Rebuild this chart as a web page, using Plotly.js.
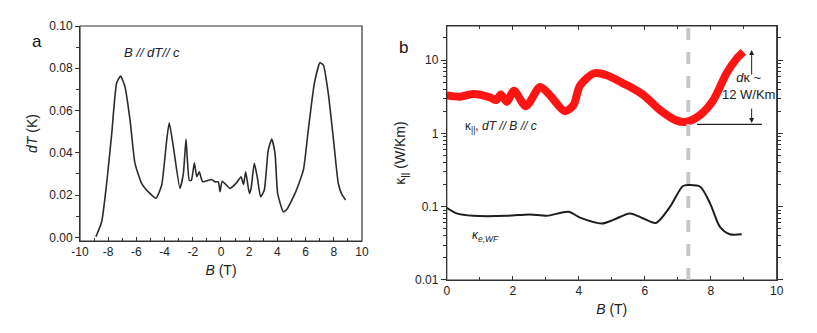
<!DOCTYPE html>
<html>
<head>
<meta charset="utf-8">
<script src="https://cdn.plot.ly/plotly-3.0.1.min.js"></script>
<style>
  html, body { margin: 0; padding: 0; background: #fff; }
  #chart { width: 817px; height: 333px; }
</style>
</head>
<body>
<div id="chart"></div>
<script>
// panel a: dT vs B
const aB = [-8.87, -8.46, -8.11, -7.75, -7.40, -7.12, -6.81, -6.45, -6.10, -5.63,
            -5.04, -4.61, -4.21, -3.85, -3.67, -3.38, -2.91, -2.67, -2.48, -2.25,
            -2.10, -1.89, -1.72, -1.54, -1.30, -0.66, -0.43, -0.19, -0.07, 0.09,
            0.64, 1.11, 1.42, 1.60, 1.75, 2.01, 2.13, 2.36, 2.57, 2.81,
            3.07, 3.35, 3.60, 3.83, 4.02, 4.42, 4.66, 5.25, 5.84, 6.19,
            6.62, 7.02, 7.26, 7.61, 7.97, 8.32, 8.56, 8.84];
const aDT = [0.0003, 0.0074, 0.0255, 0.049, 0.073, 0.0763, 0.0713, 0.0555, 0.035, 0.0256,
             0.0208, 0.0185, 0.0247, 0.046, 0.0542, 0.0429, 0.0232, 0.030, 0.0464, 0.027,
             0.027, 0.0353, 0.0287, 0.031, 0.0263, 0.0274, 0.0263, 0.0263, 0.0216, 0.0266,
             0.0232, 0.0259, 0.0287, 0.025, 0.031, 0.0208, 0.023, 0.035, 0.0287, 0.0192,
             0.0224, 0.0413, 0.0465, 0.0397, 0.0208, 0.0121, 0.0132, 0.0208, 0.0318, 0.0508,
             0.0729, 0.0826, 0.0815, 0.068, 0.0467, 0.0255, 0.0205, 0.0177];
const aTicks = [-10, -8, -6, -4, -2, 0, 2, 4, 6, 8, 10];
const aTickText = ['-10', '-8', '-6', '-4', '-2', '0', '2', '4', '6', '8', '10'];

// panel b: kappa vs B (red, measured) and WF estimate (black)
const bB = [0, 0.4, 0.81, 1.31, 1.5, 1.64, 1.82, 2.04, 2.4, 2.83,
            3.13, 3.58, 3.84, 4.04, 4.47, 4.85, 5.25, 5.45, 5.96, 6.46,
            6.97, 7.27, 7.68, 8.08, 8.48, 8.79, 8.99];
const kappa = [3.3, 3.16, 3.44, 3.1, 2.85, 3.4, 2.7, 3.8, 2.35, 4.3,
               3.3, 2.0, 2.43, 4.5, 6.6, 6.2, 5.06, 4.56, 3.33, 2.08,
               1.49, 1.44, 1.78, 2.85, 6.6, 10.5, 12.9];
const wfB = [0, 0.3, 0.81, 1.82, 2.52, 3.03, 3.69, 4.04, 4.7, 5.05,
             5.55, 5.96, 6.34, 6.77, 7.15, 7.32, 7.68, 7.98, 8.28, 8.58, 8.94];
const kappaWF = [0.0966, 0.081, 0.075, 0.075, 0.0785, 0.075, 0.085, 0.071, 0.059, 0.066,
                 0.081, 0.069, 0.060, 0.1, 0.19, 0.197, 0.187, 0.111, 0.053, 0.042, 0.042];
const markB = 7.32;

const logMajor = [0.01, 0.1, 1, 10];
const logMinor = [];
[0.01, 0.1, 1, 10].forEach(d => {
  for (let m = 2; m <= 9; m++) if (d * m < 29) logMinor.push(d * m);
});

const font = 'Liberation Sans, Arial, sans-serif';
const ink = '#222';

const traces = [
  { x: aB, y: aDT, xaxis: 'x', yaxis: 'y', type: 'scatter', mode: 'lines',
    line: { color: '#2b2b2b', width: 1.6, shape: 'spline', smoothing: 0.5 } },
  { x: bB, y: kappa, xaxis: 'x2', yaxis: 'y2', type: 'scatter', mode: 'lines',
    line: { color: '#ff1414', width: 8, shape: 'spline', smoothing: 0.8 } },
  { x: wfB, y: kappaWF, xaxis: 'x2', yaxis: 'y2', type: 'scatter', mode: 'lines',
    line: { color: '#1e1e1e', width: 2, shape: 'spline', smoothing: 0.8 } }
];

const axBase = {
  showgrid: false, zeroline: false, showline: true, linecolor: '#333', linewidth: 1,
  tickfont: { family: font, size: 12, color: ink }, tickcolor: '#333', tickwidth: 1
};
const titleFont = { family: font, size: 14, color: ink };

const layout = {
  width: 817, height: 333,
  margin: { l: 0, r: 0, t: 0, b: 0 },
  paper_bgcolor: '#fff', plot_bgcolor: '#fff',
  showlegend: false,
  font: { family: font, color: ink },
  xaxis: Object.assign({}, axBase, {
    domain: [0.0979, 0.4431], range: [-10, 10],
    tickvals: aTicks, ticktext: aTickText, ticks: 'inside', ticklen: 4,
    anchor: 'y',
    minor: { dtick: 1, ticks: 'inside', ticklen: 3, tickcolor: '#333' },
    title: { text: '<i>B</i> (T)', font: titleFont, standoff: 6 }
  }),
  yaxis: Object.assign({}, axBase, {
    domain: [0.2763, 0.9219], range: [-0.0017, 0.1], dtick: 0.02, tickformat: '.2f',
    ticks: 'outside', ticklen: 4, anchor: 'x',
    minor: { dtick: 0.01, ticks: 'outside', ticklen: 3, tickcolor: '#333' },
    title: { text: '<i>dT</i> (K)', font: titleFont, standoff: 8 }
  }),
  xaxis2: Object.assign({}, axBase, {
    domain: [0.5468, 0.9507], range: [0, 10], dtick: 2, ticks: 'inside', ticklen: 4,
    mirror: 'allticks', anchor: 'y2',
    minor: { dtick: 1, ticks: 'inside', ticklen: 3, tickcolor: '#333' },
    title: { text: '<i>B</i> (T)', font: titleFont, standoff: 6 }
  }),
  yaxis2: Object.assign({}, axBase, {
    domain: [0.1592, 0.9219], type: 'log', range: [-2, 1.464],
    tickvals: logMajor, ticktext: ['0.01', '0.1', '1', '10'],
    ticks: 'outside', ticklen: 5, mirror: 'allticks', anchor: 'x2',
    minor: { tickvals: logMinor, ticks: 'outside', ticklen: 3, tickcolor: '#333' },
    title: { text: 'κ<sub>||</sub> (W/Km)', font: titleFont, standoff: 6 }
  }),
  shapes: [
    { type: 'rect', xref: 'x domain', yref: 'y domain', x0: 0, x1: 1, y0: 0, y1: 1,
      line: { color: '#333', width: 1.2 } },
    { type: 'rect', xref: 'x2 domain', yref: 'y2 domain', x0: 0, x1: 1, y0: 0, y1: 1,
      line: { color: '#333', width: 1.2 } },
    { type: 'line', xref: 'x2', yref: 'y2 domain', x0: markB, x1: markB, y0: 0, y1: 1,
      line: { color: '#c4caca', width: 4, dash: 'dash' } },
    { type: 'line', xref: 'x2', yref: 'y2 domain', x0: 7.58, x1: 9.55, y0: 0.613, y1: 0.613,
      line: { color: '#222', width: 1.2 } }
  ],
  annotations: [
    { text: 'a', xref: 'paper', yref: 'paper', x: 30 / 817, y: 1 - 30 / 333,
      showarrow: false, font: { family: font, size: 17, color: '#111' } },
    { text: 'b', xref: 'paper', yref: 'paper', x: 403 / 817, y: 1 - 36 / 333,
      showarrow: false, font: { family: font, size: 17, color: '#111' } },
    { text: '<i>B // dT// c</i>', xref: 'x', yref: 'y', x: -7.02, y: 0.0877, xanchor: 'left',
      showarrow: false, font: { family: font, size: 13, color: ink } },
    { text: 'κ<sub>||</sub>, <i>dT // B // c</i>', xref: 'x2', yref: 'y2', x: 0.49, y: 0.086,
      xanchor: 'left', showarrow: false, font: { family: font, size: 12, color: ink } },
    { text: '<i>κ<sub>e,WF</sub></i>', xref: 'x2', yref: 'y2', x: 0.7, y: -1.40,
      xanchor: 'left', showarrow: false, font: { family: font, size: 12, color: ink } },
    { text: '<i>d</i>κ ~<br>12 W/Km', xref: 'x2', yref: 'y2', x: 9.13, y: 0.64,
      showarrow: false, align: 'center', font: { family: font, size: 13, color: ink } },
    { text: '', xref: 'x2', yref: 'y2', x: 9.24, y: 1.137, ax: 0, ay: 26,
      showarrow: true, arrowhead: 2, arrowsize: 1, arrowwidth: 1, arrowcolor: '#222' },
    { text: '', xref: 'x2', yref: 'y2', x: 9.24, y: 0.14, ax: 0, ay: -16,
      showarrow: true, arrowhead: 2, arrowsize: 1, arrowwidth: 1, arrowcolor: '#222' }
  ]
};

Plotly.newPlot('chart', traces, layout, { displayModeBar: false, staticPlot: true });
</script>
</body>
</html>
